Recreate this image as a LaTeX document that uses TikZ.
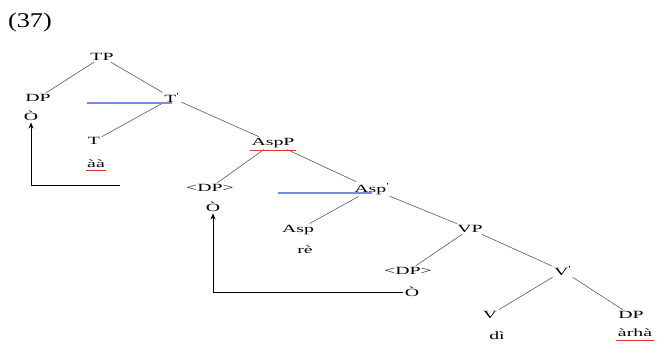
\documentclass[tikz,border=0pt]{standalone}
\usepackage{fontspec}
\setmainfont{Liberation Serif}
\usetikzlibrary{arrows.meta}
\definecolor{blueline}{RGB}{120,140,225}
\definecolor{spellred}{RGB}{230,50,50}
\newcommand\wtxt[1]{\scalebox{1.8}[1]{#1}}
\newcommand\barlab[1]{#1\textsuperscript{\textquotesingle}}
\tikzset{
  lab/.style={inner sep=1.5pt, font=\fontsize{11}{13}\selectfont, text=black},
  edge/.style={draw=black!65, line width=0.6pt},
  bluel/.style={draw=blueline, line width=1.1pt},
  spell/.style={draw=spellred, line width=0.9pt},
  mv/.style={draw=black, line width=0.8pt, -{Stealth[length=6pt,width=5pt]}}
}
\begin{document}
\begin{tikzpicture}[x=1pt,y=-1pt]
\useasboundingbox (0,0) rectangle (660,344);
\node[font=\fontsize{21}{25}\selectfont, inner sep=0] (num) at (30,22) {\scalebox{1.25}[1]{(37)}};
\node[lab] (TP) at (102,57) {\wtxt{TP}};
\node[lab] (DP) at (38,98) {\wtxt{DP}};
\node[lab] (O1) at (31,116) {\wtxt{Ò}};
\node[lab] (Tbar) at (172,98) {\wtxt{\barlab{T}}};
\node[lab] (T) at (94,141) {\wtxt{T}};
\node[lab] (aa) at (96,164) {\wtxt{àà}};
\node[lab] (AspP) at (273,143) {\wtxt{AspP}};
\node[lab] (DP2) at (210,188) {\wtxt{<DP>}};
\node[lab] (O2) at (213,207) {\wtxt{Ò}};
\node[lab] (Aspbar) at (372,189) {\wtxt{\barlab{Asp}}};
\node[lab] (Asp) at (298,230) {\wtxt{Asp}};
\node[lab] (re) at (305,250) {\wtxt{rè}};
\node[lab] (VP) at (470,229) {\wtxt{VP}};
\node[lab] (DP3) at (408,271) {\wtxt{<DP>}};
\node[lab] (O3) at (412,292) {\wtxt{Ò}};
\node[lab] (Vbar) at (563,271) {\wtxt{\barlab{V}}};
\node[lab] (V) at (490,315) {\wtxt{V}};
\node[lab] (di) at (497,336) {\wtxt{dì}};
\node[lab] (DP4) at (631,315) {\wtxt{DP}};
\node[lab] (arha) at (635,333) {\wtxt{àrhà}};
% tree edges
\draw[edge] (TP) -- (DP);
\draw[edge] (TP) -- (Tbar);
\draw[edge] (Tbar) -- (T);
\draw[edge] (Tbar) -- (AspP);
\draw[edge] (AspP) -- (DP2);
\draw[edge] (AspP) -- (Aspbar);
\draw[edge] (Aspbar) -- (Asp);
\draw[edge] (Aspbar) -- (VP);
\draw[edge] (VP) -- (DP3);
\draw[edge] (VP) -- (Vbar);
\draw[edge] (Vbar) -- (V);
\draw[edge] (Vbar) -- (DP4);
% blue lines
\coordinate (b1) at (87,103);
\coordinate (b2) at (278,193);
\draw[bluel] (b1) -- (b1 -| Tbar.south);
\draw[bluel] (b2) -- (b2 -| Aspbar.south);
% spell-check underlines
\draw[spell] ([yshift=-1pt]AspP.south west) -- ([yshift=-1pt]AspP.south east);
\draw[spell] ([yshift=-1pt]aa.south west) -- ([yshift=-1pt]aa.south east);
\draw[spell] ([yshift=-2pt]arha.south west) -- ([yshift=-2pt]arha.south east);
% movement arrows
\coordinate (s1) at (120,185);
\draw[mv] (s1) -| (O1.south);
\draw[mv] (O3.west) -| (O2.south);
\end{tikzpicture}
\end{document}
